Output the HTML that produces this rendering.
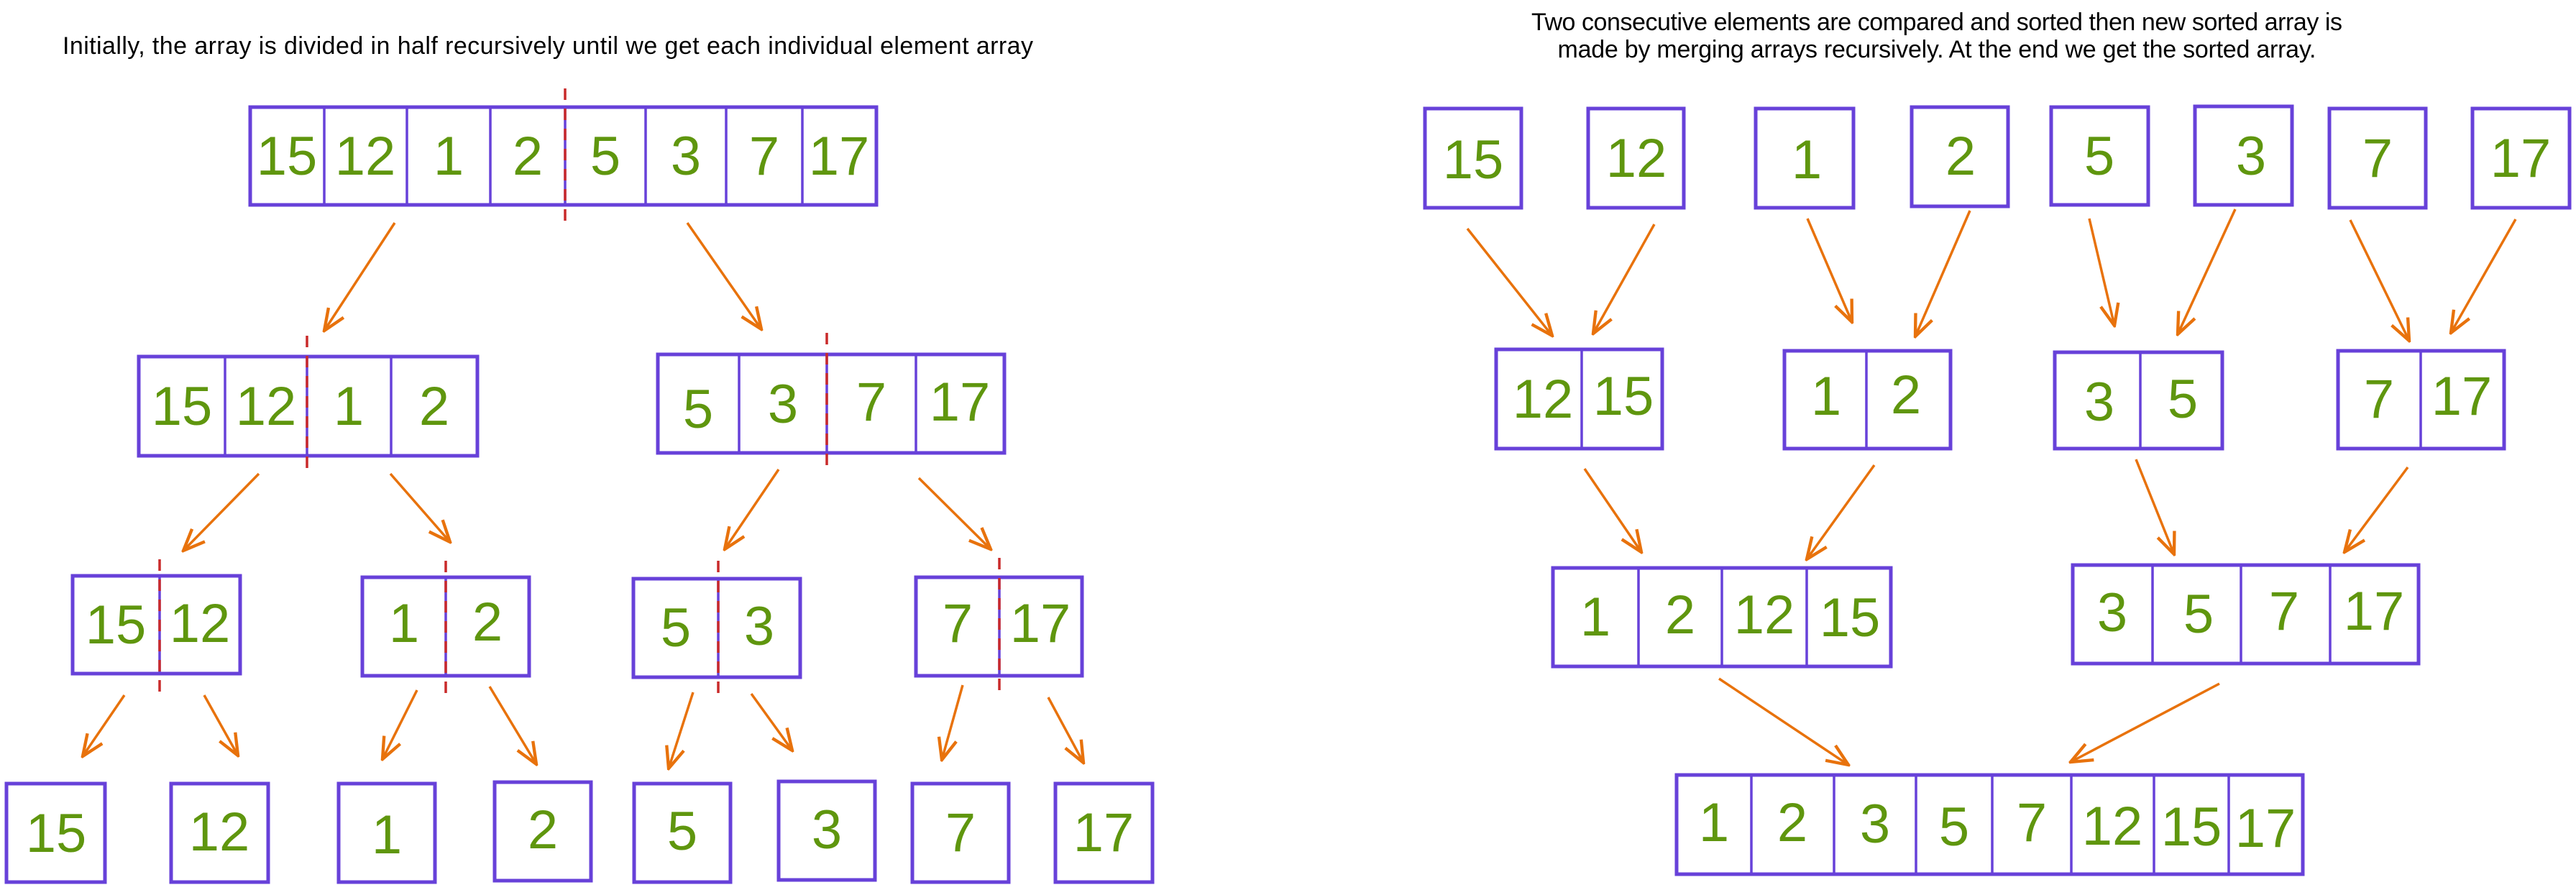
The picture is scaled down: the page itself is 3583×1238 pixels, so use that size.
<!DOCTYPE html>
<html><head><meta charset="utf-8"><style>
html,body{margin:0;padding:0;background:#fff;}
svg{display:block}
.b{fill:none;stroke:#6741d9;stroke-width:5}
.d{stroke:#6741d9;stroke-width:3.5}
.r{stroke:#c92a2a;stroke-width:3.5;stroke-dasharray:16 12}
.a{stroke:#e8720c;stroke-width:3.5;fill:none}
.n{font-family:"Liberation Sans",sans-serif;font-size:76px;fill:#5f960e;text-anchor:middle}
.t{font-family:"Liberation Sans",sans-serif;font-size:34px;fill:#000;text-anchor:middle}
</style></head><body>
<svg width="3583" height="1238" viewBox="0 0 3583 1238" xmlns="http://www.w3.org/2000/svg">
<defs><marker id="h" markerUnits="userSpaceOnUse" markerWidth="40" markerHeight="40" refX="0" refY="0" viewBox="-30 -15 32 30" orient="auto"><path d="M-24,-10 L0,0 L-24,10" fill="none" stroke="#e8720c" stroke-width="3.5"/></marker></defs>
<text class="t" x="762" y="75" textLength="1350">Initially, the array is divided in half recursively until we get each individual element array</text>
<text class="t" x="2694" y="42" textLength="1128">Two consecutive elements are compared and sorted then new sorted array is</text>
<text class="t" x="2694" y="80" textLength="1055">made by merging arrays recursively. At the end we get the sorted array.</text>

<!-- LEFT top -->
<rect class="b" x="348" y="149" width="871" height="136"/>
<path class="d" d="M451 149V285M566 149V285M682 149V285M786 149V285M898 149V285M1010 149V285M1116 149V285"/>
<line class="r" x1="786" y1="123" x2="786" y2="314"/>
<g class="n"><text x="399" y="243">15</text><text x="508" y="243">12</text><text x="624" y="243">1</text><text x="734" y="243">2</text><text x="842" y="243">5</text><text x="954" y="243">3</text><text x="1063" y="243">7</text><text x="1167" y="243">17</text></g>

<g class="a"><line x1="549" y1="310" x2="451" y2="460" marker-end="url(#h)"/><line x1="956" y1="310" x2="1059" y2="458" marker-end="url(#h)"/></g>

<rect class="b" x="193" y="496" width="471" height="138"/>
<path class="d" d="M313 496V634M427 496V634M544 496V634"/>
<line class="r" x1="427" y1="467" x2="427" y2="658"/>
<g class="n"><text x="253" y="591">15</text><text x="370" y="591">12</text><text x="485" y="591">1</text><text x="604" y="591">2</text></g>
<rect class="b" x="915" y="493" width="482" height="137"/>
<path class="d" d="M1028 493V630M1150 493V630M1274 493V630"/>
<line class="r" x1="1150" y1="463" x2="1150" y2="655"/>
<g class="n"><text x="971" y="595">5</text><text x="1089" y="588">3</text><text x="1212" y="585">7</text><text x="1335" y="585">17</text></g>

<g class="a"><line x1="360" y1="659" x2="255" y2="766" marker-end="url(#h)"/><line x1="543" y1="659" x2="626" y2="754" marker-end="url(#h)"/><line x1="1083" y1="653" x2="1008" y2="764" marker-end="url(#h)"/><line x1="1278" y1="665" x2="1378" y2="764" marker-end="url(#h)"/></g>

<rect class="b" x="101" y="801" width="233" height="136"/><path class="d" d="M222 801V937"/><line class="r" x1="222" y1="778" x2="222" y2="970"/>
<rect class="b" x="504" y="803" width="232" height="137"/><path class="d" d="M620 803V940"/><line class="r" x1="620" y1="780" x2="620" y2="968"/>
<rect class="b" x="881" y="805" width="232" height="137"/><path class="d" d="M999 805V942"/><line class="r" x1="999" y1="780" x2="999" y2="970"/>
<rect class="b" x="1274" y="803" width="231" height="137"/><path class="d" d="M1390 803V940"/><line class="r" x1="1390" y1="776" x2="1390" y2="968"/>
<g class="n"><text x="161" y="895">15</text><text x="278" y="893">12</text><text x="562" y="893">1</text><text x="678" y="891">2</text><text x="940" y="899">5</text><text x="1056" y="897">3</text><text x="1332" y="893">7</text><text x="1447" y="893">17</text></g>

<g class="a"><line x1="173" y1="967" x2="115" y2="1052" marker-end="url(#h)"/><line x1="284" y1="967" x2="331" y2="1051" marker-end="url(#h)"/><line x1="580" y1="960" x2="532" y2="1056" marker-end="url(#h)"/><line x1="681" y1="955" x2="746" y2="1063" marker-end="url(#h)"/><line x1="964" y1="963" x2="930" y2="1069" marker-end="url(#h)"/><line x1="1045" y1="965" x2="1102" y2="1044" marker-end="url(#h)"/><line x1="1339" y1="953" x2="1310" y2="1057" marker-end="url(#h)"/><line x1="1458" y1="970" x2="1507" y2="1061" marker-end="url(#h)"/></g>

<g class="b"><rect x="9" y="1090" width="137" height="137"/><rect x="238" y="1090" width="135" height="137"/><rect x="471" y="1090" width="134" height="137"/><rect x="688" y="1088" width="134" height="137"/><rect x="882" y="1090" width="134" height="137"/><rect x="1083" y="1087" width="134" height="137"/><rect x="1269" y="1090" width="134" height="137"/><rect x="1468" y="1090" width="135" height="137"/></g>
<g class="n"><text x="78" y="1185">15</text><text x="305" y="1183">12</text><text x="538" y="1187">1</text><text x="755" y="1180">2</text><text x="949" y="1182">5</text><text x="1150" y="1180">3</text><text x="1336" y="1184">7</text><text x="1535" y="1184">17</text></g>

<!-- RIGHT -->
<g class="b"><rect x="1982" y="151" width="134" height="138"/><rect x="2209" y="151" width="133" height="138"/><rect x="2442" y="151" width="136" height="138"/><rect x="2659" y="149" width="134" height="138"/><rect x="2853" y="149" width="135" height="136"/><rect x="3053" y="148" width="135" height="137"/><rect x="3240" y="151" width="134" height="138"/><rect x="3439" y="151" width="135" height="138"/></g>
<g class="n"><text x="2049" y="248">15</text><text x="2276" y="246">12</text><text x="2513" y="248">1</text><text x="2727" y="243">2</text><text x="2920" y="243">5</text><text x="3131" y="243">3</text><text x="3307" y="246">7</text><text x="3506" y="246">17</text></g>

<g class="a"><line x1="2041" y1="318" x2="2159" y2="467" marker-end="url(#h)"/><line x1="2301" y1="312" x2="2216" y2="464" marker-end="url(#h)"/><line x1="2514" y1="304" x2="2576" y2="448" marker-end="url(#h)"/><line x1="2740" y1="293" x2="2664" y2="468" marker-end="url(#h)"/><line x1="2906" y1="304" x2="2941" y2="453" marker-end="url(#h)"/><line x1="3109" y1="291" x2="3029" y2="465" marker-end="url(#h)"/><line x1="3269" y1="306" x2="3351" y2="474" marker-end="url(#h)"/><line x1="3499" y1="305" x2="3409" y2="463" marker-end="url(#h)"/></g>

<rect class="b" x="2081" y="486" width="231" height="138"/><path class="d" d="M2200 486V624"/>
<rect class="b" x="2482" y="488" width="231" height="136"/><path class="d" d="M2596 488V624"/>
<rect class="b" x="2858" y="490" width="233" height="134"/><path class="d" d="M2977 490V624"/>
<rect class="b" x="3252" y="488" width="231" height="136"/><path class="d" d="M3367 488V624"/>
<g class="n"><text x="2146" y="581">12</text><text x="2258" y="577">15</text><text x="2540" y="577">1</text><text x="2651" y="575">2</text><text x="2920" y="585">3</text><text x="3036" y="581">5</text><text x="3309" y="581">7</text><text x="3424" y="577">17</text></g>

<g class="a"><line x1="2204" y1="652" x2="2283" y2="768" marker-end="url(#h)"/><line x1="2607" y1="647" x2="2513" y2="778" marker-end="url(#h)"/><line x1="2971" y1="639" x2="3024" y2="771" marker-end="url(#h)"/><line x1="3349" y1="650" x2="3261" y2="768" marker-end="url(#h)"/></g>

<rect class="b" x="2160" y="790" width="470" height="137"/><path class="d" d="M2279 790V927M2395 790V927M2513 790V927"/>
<g class="n"><text x="2219" y="884">1</text><text x="2337" y="881">2</text><text x="2454" y="881">12</text><text x="2573" y="885">15</text></g>
<rect class="b" x="2883" y="786" width="481" height="137"/><path class="d" d="M2994 786V923M3117 786V923M3241 786V923"/>
<g class="n"><text x="2938" y="878">3</text><text x="3058" y="880">5</text><text x="3177" y="876">7</text><text x="3302" y="876">17</text></g>

<g class="a"><line x1="2391" y1="944" x2="2571" y2="1064" marker-end="url(#h)"/><line x1="3087" y1="951" x2="2880" y2="1060" marker-end="url(#h)"/></g>

<rect class="b" x="2332" y="1078" width="871" height="138"/>
<path class="d" d="M2436 1078V1216M2551 1078V1216M2665 1078V1216M2771 1078V1216M2881 1078V1216M2996 1078V1216M3100 1078V1216"/>
<g class="n"><text x="2384" y="1170">1</text><text x="2493" y="1170">2</text><text x="2608" y="1172">3</text><text x="2718" y="1176">5</text><text x="2826" y="1170">7</text><text x="2938" y="1175">12</text><text x="3048" y="1176">15</text><text x="3151" y="1178">17</text></g>
</svg>
</body></html>
